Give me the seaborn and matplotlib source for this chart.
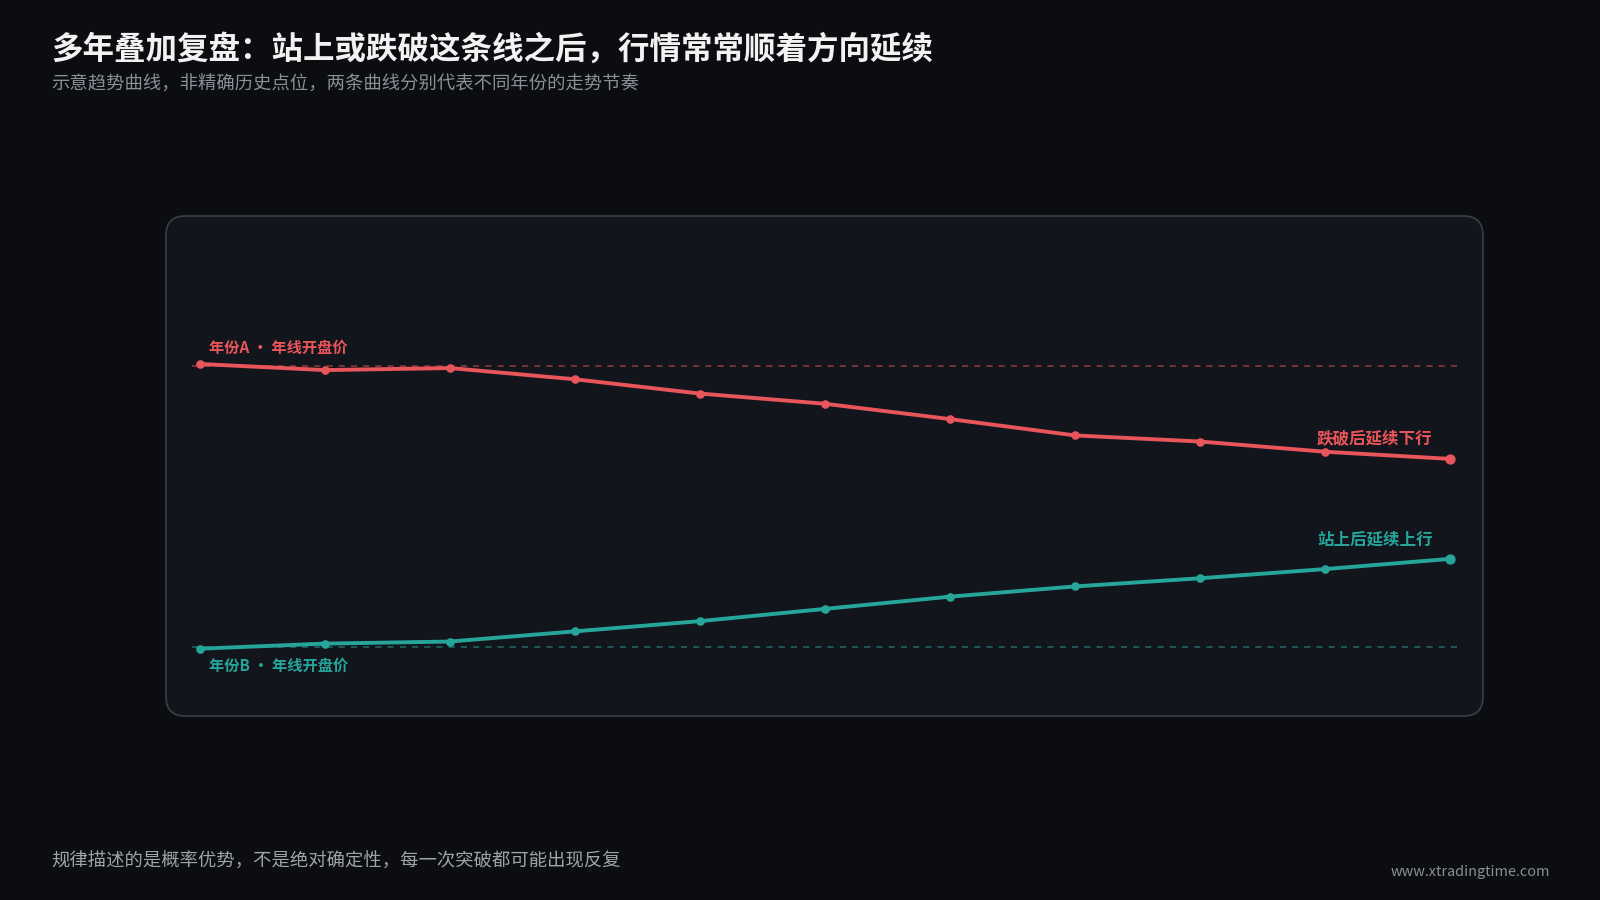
import pandas as pd
import numpy as np
import matplotlib
matplotlib.use("Agg")
import matplotlib.pyplot as plt
import seaborn as sns
from matplotlib.patches import FancyBboxPatch

# -------------------
# Data (schematic)
steps = list(range(11))
year_a = [28.3, 27.7, 27.9, 26.8, 25.4, 24.4, 22.9, 21.3, 20.7, 19.7, 19.0]
year_b = [0.4, 0.9, 1.1, 2.1, 3.1, 4.3, 5.5, 6.5, 7.3, 8.2, 9.2]
open_a = 28.1
open_b = 0.6

title = "多年叠加复盘：站上或跌破这条线之后，行情常常顺着方向延续"
subtitle = "示意趋势曲线，非精确历史点位，两条曲线分别代表不同年份的走势节奏"
label_a = "年份A · 年线开盘价"
label_b = "年份B · 年线开盘价"
end_a = "跌破后延续下行"
end_b = "站上后延续上行"
footer = "规律描述的是概率优势，不是绝对确定性，每一次突破都可能出现反复"
site = "www.xtradingtime.com"

RED = "#e8555a"
GREEN = "#26a69a"
BG = "#0c0d11"
PANEL = "#12151c"

sns.set_theme(style="dark")
plt.rcParams['font.family'] = ['Noto Sans CJK SC', 'DejaVu Sans']

df_a = pd.DataFrame({'step': steps, 'value': year_a})
df_b = pd.DataFrame({'step': steps, 'value': year_b})

fig = plt.figure(figsize=(16, 9), dpi=100, facecolor=BG)

# rounded panel behind the axes
panel = FancyBboxPatch((0.10375, 0.2044), 0.8231, 0.5556,
                       boxstyle="round,pad=0,rounding_size=0.012",
                       transform=fig.transFigure, facecolor=PANEL,
                       edgecolor="#3b3e46", linewidth=1.2, zorder=-1,
                       mutation_aspect=16 / 9)
fig.patches.append(panel)

ax = fig.add_axes([0.10375, 0.2044, 0.8231, 0.5556])
ax.set_zorder(2)
ax.set_facecolor("none")
for s in ax.spines.values():
    s.set_visible(False)
ax.set_xticks([])
ax.set_yticks([])
ax.grid(False)

# open-price reference lines
ax.hlines(open_a, -0.065, 10.07, colors=RED, linestyles=(0, (4, 4)), linewidth=1.1, alpha=0.6)
ax.hlines(open_b, -0.065, 10.07, colors=GREEN, linestyles=(0, (4, 4)), linewidth=1.1, alpha=0.6)

sns.lineplot(data=df_a, x='step', y='value', ax=ax, color=RED, linewidth=2.8,
             marker='o', markersize=6.2, markeredgewidth=0)
sns.lineplot(data=df_b, x='step', y='value', ax=ax, color=GREEN, linewidth=2.8,
             marker='o', markersize=6.2, markeredgewidth=0)
sns.scatterplot(data=df_a.tail(1), x='step', y='value', ax=ax, color=RED, s=55, linewidth=0)
sns.scatterplot(data=df_b.tail(1), x='step', y='value', ax=ax, color=GREEN, s=55, linewidth=0)
ax.set_xlabel("")
ax.set_ylabel("")
ax.set_xlim(-0.272, 10.264)
ax.set_ylim(-6.2, 42.8)

ax.text(0.073, 29.9, label_a, color=RED, fontsize=11, fontweight='bold', va='center', ha='left')
ax.text(0.073, -1.3, label_b, color=GREEN, fontsize=11, fontweight='bold', va='center', ha='left')
ax.text(9.86, 21.0, end_a, color=RED, fontsize=11.9, fontweight='bold', va='center', ha='right')
ax.text(9.86, 11.1, end_b, color=GREEN, fontsize=11.9, fontweight='bold', va='center', ha='right')

fig.text(0.032, 0.945, title, color="#f2f2f2", fontsize=22.7, fontweight='bold', va='center', ha='left')
fig.text(0.032, 0.906, subtitle, color="#8b8f98", fontsize=13.2, va='center', ha='left')
fig.text(0.032, 0.042, footer, color="#a0a3aa", fontsize=13.2, va='center', ha='left')
fig.text(0.969, 0.031, site, color="#8a8d94", fontsize=10.4, va='center', ha='right')

fig.savefig("out.png", dpi=100, facecolor=BG)
